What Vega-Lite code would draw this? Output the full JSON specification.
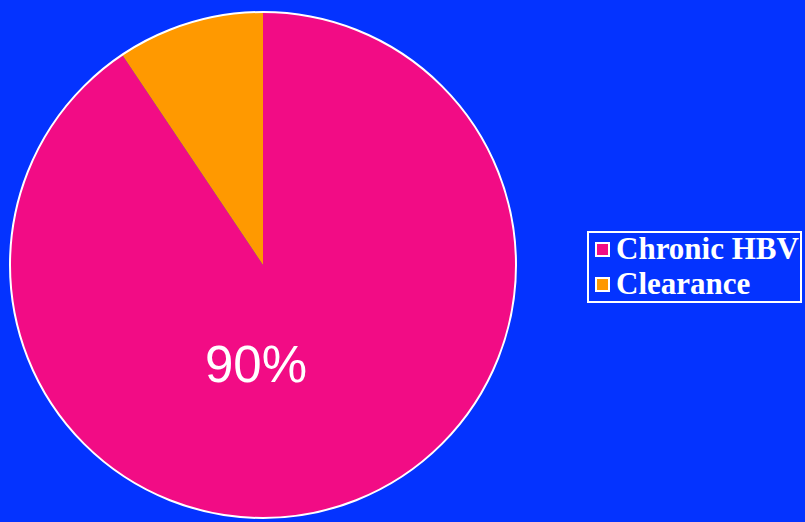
{
  "$schema": "https://vega.github.io/schema/vega-lite/v6.json",
  "width": 526,
  "height": 530,
  "autosize": "none",
  "padding": {"left": 0, "top": 0, "right": 279, "bottom": 0},
  "background": "#0433FF",
  "view": {"stroke": null},
  "data": {"values": [
    {"category": "Chronic HBV", "value": 90.6, "label": "90%"},
    {"category": "Clearance", "value": 9.4, "label": ""}
  ]},
  "layer": [
    {
      "mark": {"type": "arc", "outerRadius": 253},
      "encoding": {
        "theta": {"field": "value", "type": "quantitative", "stack": true},
        "color": {
          "field": "category", "type": "nominal",
          "scale": {"domain": ["Chronic HBV", "Clearance"], "range": ["#F20C85", "#FF9900"]},
          "legend": {
            "title": null,
            "orient": "none",
            "legendX": 588,
            "legendY": 232,
            "strokeColor": "white",
            "padding": 2,
            "symbolType": "square",
            "symbolSize": 169,
            "symbolStrokeColor": "white",
            "symbolStrokeWidth": 2,
            "symbolOpacity": 1,
            "symbolOffset": -3,
            "labelFont": "Liberation Serif",
            "labelFontWeight": "bold",
            "labelFontSize": 31,
            "labelColor": "white",
            "labelLimit": 300,
            "labelOffset": -2,
            "rowPadding": 3,
            "encode": {"legend": {"update": {"strokeWidth": {"value": 2}}}}
          }
        }
      }
    },
    {
      "mark": {"type": "text", "radius": 0, "dx": -7, "dy": 102, "font": "Liberation Sans", "fontSize": 51, "color": "white", "baseline": "middle", "align": "center"},
      "encoding": {
        "theta": {"field": "value", "type": "quantitative", "stack": true},
        "text": {"field": "label"}
      }
    },
    {
      "data": {"values": [{"whole": 100}]},
      "mark": {"type": "arc", "outerRadius": 253, "fill": null, "stroke": "white", "strokeWidth": 2},
      "encoding": {"theta": {"field": "whole", "type": "quantitative"}}
    }
  ],
  "resolve": {"scale": {"theta": "independent"}}
}
